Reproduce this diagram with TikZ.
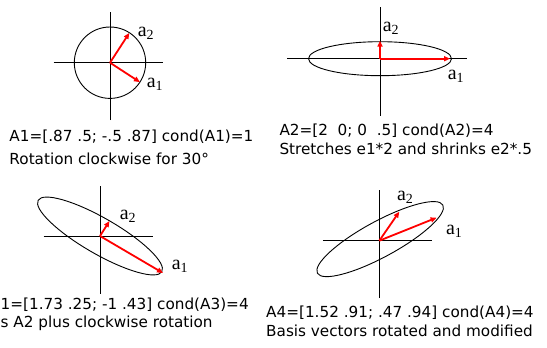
\documentclass[tikz,border=0pt]{standalone}
\usepackage{fontspec}
\setmainfont{DejaVu Sans}
\newfontfamily\labelfont{Liberation Serif}
\usetikzlibrary{arrows.meta}

\begin{document}
\begin{tikzpicture}[x=1bp, y=1bp,
    axis/.style={black, line width=0.9bp},
    outline/.style={black, line width=0.9bp},
    vec/.style={red, line width=1.8bp, -{Triangle[length=6bp, width=5bp]}},
    lbl/.style={font=\labelfont\fontsize{20}{20}\selectfont, inner sep=0pt},
    caption/.style={anchor=base west, inner sep=0pt,
                    font=\fontsize{15.3}{18}\selectfont}
  ]
  \useasboundingbox (0,0) rectangle (547,347);

  % rotation
  \begin{scope}[shift={(110,284.3)}]
    \coordinate (o1) at (0,0);
    \draw[axis] (-56.5,0) -- (52.5,0);
    \draw[axis] (0,-57.5) -- (0,50.5);
    \draw[outline] (o1) circle [radius=35.7];
    \coordinate (p1) at (-33:35.7);
    \coordinate (q1) at (57:35.5);
    \draw[vec] (o1) -- (p1);
    \draw[vec] (o1) -- (q1);
    \node[lbl] (p1l) at (45,-22) {a\textsubscript{1}};
    \node[lbl] (q1l) at (36,29) {a\textsubscript{2}};
  \end{scope}
  \node[caption] (c1a) at (9.3,205.3) {A1=[.87 .5; -.5 .87] cond(A1)=1};
  \node[caption] (c1b) at (9.3,182.7) {Rotation clockwise for 30\textdegree};

  % stretch
  \begin{scope}[shift={(380,288.3)}]
    \coordinate (o2) at (0,0);
    \draw[axis] (-92.7,0) -- (86.7,0);
    \draw[axis] (0,-57) -- (0,52);
    \draw[outline] (o2) ellipse [x radius=71.5, y radius=17];
    \coordinate (p2) at (70,0);
    \coordinate (q2) at (0,18);
    \draw[vec] (o2) -- (p2);
    \draw[vec] (o2) -- (q2);
    \node[lbl] (p2l) at (76,-18) {a\textsubscript{1}};
    \node[lbl] (q2l) at (11,30) {a\textsubscript{2}};
  \end{scope}
  \node[caption] (c2a) at (279.3,211.3) {A2=[2\ \ 0; 0\ \ .5] cond(A2)=4};
  \node[caption] (c2b) at (279.3,193) {Stretches e1*2 and shrinks e2*.5};

  % stretch plus rotation
  \begin{scope}[shift={(100,111)}]
    \coordinate (o3) at (0,0);
    \draw[axis] (-56.5,0) -- (52.5,0);
    \draw[axis] (0,-57.5) -- (0,50.5);
    \draw[outline, rotate=-30] (o3) ellipse [x radius=71.4, y radius=17.9];
    \coordinate (p3) at (63,-37);
    \coordinate (q3) at (9.5,15);
    \draw[vec] (o3) -- (p3);
    \draw[vec] (o3) -- (q3);
    \node[lbl] (p3l) at (80,-30) {a\textsubscript{1}};
    \node[lbl] (q3l) at (28,20) {a\textsubscript{2}};
  \end{scope}
  \node[caption] (c3a) at (0.5,37.7) {1=[1.73 .25; -1 .43] cond(A3)=4};
  \node[caption] (c3b) at (0.5,19.3) {s A2 plus clockwise rotation};

  % rotated basis
  \begin{scope}[shift={(379.3,106.3)}]
    \coordinate (o4) at (0,0);
    \draw[axis] (-56.5,0) -- (52.5,0);
    \draw[axis] (0,-57.5) -- (0,50.5);
    \draw[outline, rotate=28.5] (1.5,1) ellipse [x radius=71.4, y radius=17.9];
    \coordinate (p4) at (57.3,23);
    \coordinate (q4) at (20,29);
    \draw[vec] (o4) -- (p4);
    \draw[vec] (o4) -- (q4);
    \node[lbl] (p4l) at (75,9) {a\textsubscript{1}};
    \node[lbl] (q4l) at (26,43) {a\textsubscript{2}};
  \end{scope}
  \node[caption] (c4a) at (266,29.3) {A4=[1.52 .91; .47 .94] cond(A4)=4};
  \node[caption] (c4b) at (266,10.3) {Basis vectors rotated and modified};
\end{tikzpicture}
\end{document}
